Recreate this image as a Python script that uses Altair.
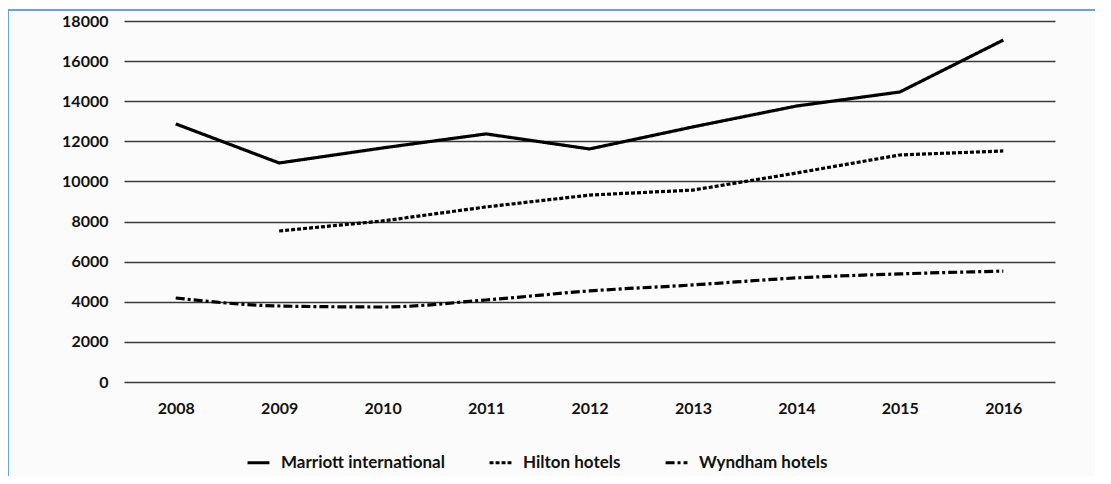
import altair as alt
import pandas as pd

years = ["2008", "2009", "2010", "2011", "2012", "2013", "2014", "2015", "2016"]
series = ["Marriott international", "Hilton hotels", "Wyndham hotels"]
marriott = [12870, 10920, 11670, 12370, 11620, 12720, 13760, 14460, 17050]
hilton = [None, 7530, 8030, 8730, 9320, 9570, 10420, 11320, 11520]
wyndham = [4190, 3790, 3740, 4090, 4540, 4840, 5190, 5390, 5530]
y_ticks = [0, 2000, 4000, 6000, 8000, 10000, 12000, 14000, 16000, 18000]

rows = []
for name, vals in zip(series, [marriott, hilton, wyndham]):
    for yr, v in zip(years, vals):
        if v is not None:
            rows.append({"year": yr, "value": v, "series": name})
df = pd.DataFrame(rows)

FONT = "Lato"

x_enc = alt.X("year:O", sort=years, title=None,
              scale=alt.Scale(type="point", padding=0.5),
              axis=alt.Axis(labelAngle=0, domain=False, ticks=False, labelPadding=18,
                            labelFont=FONT, labelFontWeight="bold", labelFontSize=16,
                            labelColor="#111"))
y_enc = alt.Y("value:Q", title=None,
              scale=alt.Scale(domain=[0, 18000], nice=False),
              axis=alt.Axis(values=y_ticks, format="d", domain=False, ticks=False,
                            labelPadding=16,
                            labelFont=FONT, labelFontWeight="bold", labelFontSize=16,
                            labelColor="#111", grid=True, gridColor="#3a3a3a",
                            gridWidth=1.6))
dash = alt.StrokeDash("series:N", sort=series, title=None,
                      scale=alt.Scale(domain=series, range=[[1, 0], [4, 2], [9, 3, 3, 3]]),
                      legend=alt.Legend(orient="none", direction="horizontal",
                                        legendX=122, legendY=429,
                                        symbolType="stroke", symbolStrokeColor="black",
                                        symbolStrokeWidth=3, symbolSize=480,
                                        labelFont=FONT, labelFontSize=17, labelLimit=400,
                                        labelFontWeight="bold", labelColor="#111",
                                        columnPadding=38, labelOffset=10))

base = alt.Chart(df)
marriott_line = base.mark_line(color="black", strokeWidth=3.2).encode(
    x=x_enc, y=y_enc, strokeDash=dash
).transform_filter(alt.datum.series == series[0])
hilton_line = base.mark_line(color="black", strokeWidth=3.2).encode(
    x=x_enc, y=y_enc, strokeDash=dash
).transform_filter(alt.datum.series == series[1])
wyndham_line = base.mark_line(color="black", strokeWidth=3.2, interpolate="monotone").encode(
    x=x_enc, y=y_enc, strokeDash=dash
).transform_filter(alt.datum.series == series[2])

frame_top = base.mark_rule(color="#6aa3dc", strokeWidth=2).encode(
    x=alt.value(-116), x2=alt.value(1100), y=alt.value(-11)
)
frame_left = base.mark_rule(color="#6aa3dc", strokeWidth=2).encode(
    x=alt.value(-116), y=alt.value(-11), y2=alt.value(480)
)

chart = alt.layer(marriott_line, hilton_line, wyndham_line, frame_top, frame_left).properties(
    width=931, height=361,
    autosize=alt.AutoSizeParams(type="none"),
    padding={"left": 116, "top": 13, "right": 40, "bottom": 94},
    background="#fbfbfb",
).configure_view(stroke=None)

chart.save("out.html", embed_options={"renderer": "svg", "actions": False})
